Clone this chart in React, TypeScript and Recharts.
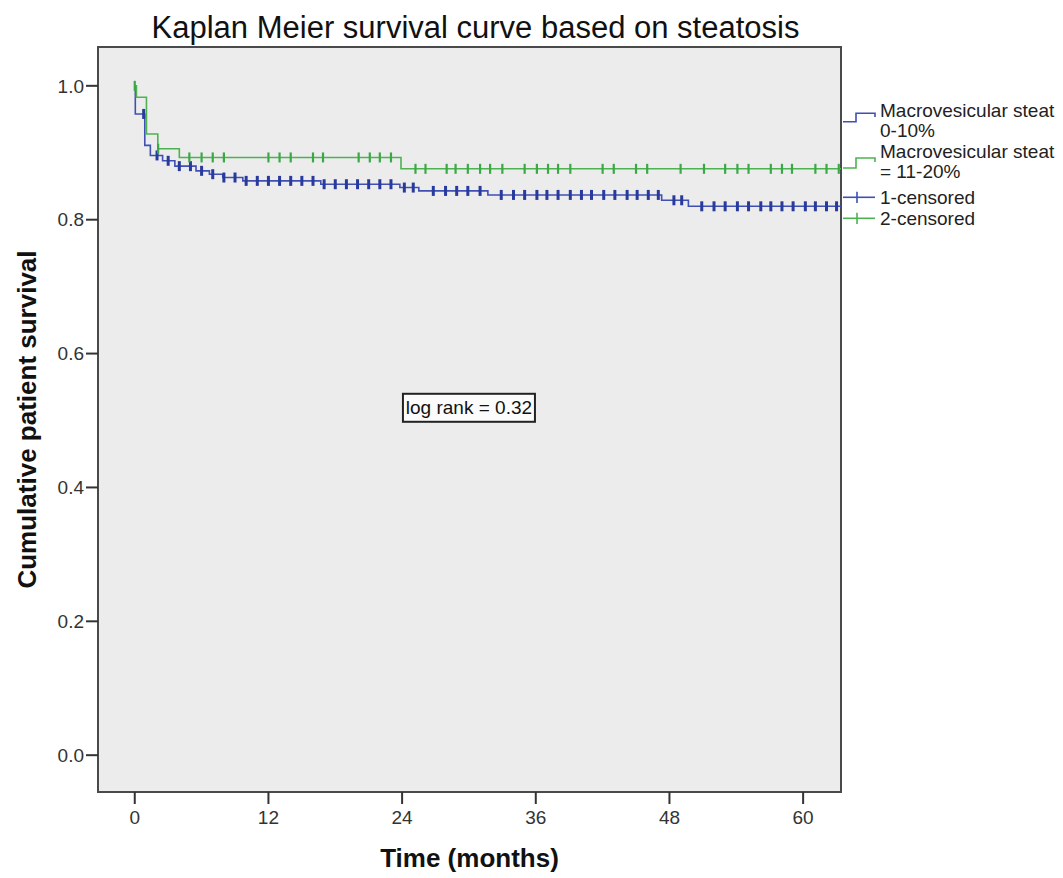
import React from 'react';
import {
  ComposedChart,
  Line,
  Scatter,
  XAxis,
  YAxis,
  CartesianGrid,
  ReferenceArea,
  ReferenceDot,
  Legend,
} from 'recharts';

// axis ticks
const monthTicks = [0, 12, 24, 36, 48, 60];
const survivalTicks = [0, 0.2, 0.4, 0.6, 0.8, 1.0];

// macrovesicular steatosis 0-10%: step times (months) and survival from that time on
const lowTimes = [0, 0.05, 0.9, 1.4, 2.5, 3.6, 5.5, 6.7, 7.9, 9.7, 16.7, 23.8, 25.5, 31.7, 47.3, 49.7, 63.4];
const lowSurvival = [1.0, 0.958, 0.911, 0.896, 0.888, 0.88, 0.873, 0.868, 0.863, 0.858, 0.853, 0.848, 0.843, 0.837, 0.829, 0.82, 0.82];
const lowCensored = [
  0.8, 2, 3, 4, 5, 6, 7, 8, 9, 10, 11, 12, 13, 14, 15, 16, 17, 18, 19, 20, 21, 22, 23, 24.2, 25, 26.8,
  27.9, 28.9, 29.9, 31, 32.9, 34, 35, 36.1, 37, 38, 39.1, 40.1, 41, 42.1, 43.1, 44.2, 45.1, 46.1, 47,
  48.4, 49.1, 50.9, 52, 53, 54.1, 55.1, 56.2, 57.1, 58.1, 59.1, 60.2, 61.1, 62.1, 63,
];

// macrovesicular steatosis 11-20%
const highTimes = [0, 0.15, 1.05, 2.07, 4.0, 23.9, 63.4];
const highSurvival = [1.0, 0.983, 0.928, 0.906, 0.893, 0.876, 0.876];
const highCensored = [
  0, 2.1, 4.9, 6, 7, 8, 12, 13, 14, 16, 16.9, 20.1, 21.1, 22, 23, 25.2, 26.1, 28, 28.8, 29.9, 31,
  31.9, 33, 35, 36.1, 37.1, 38, 39.1, 42, 43, 45, 46, 49, 51.1, 53, 54.1, 55.1, 57.1, 58.1, 59, 61.1,
  62.1, 63.2,
];

// legend labels (the source cuts the group name at the right edge)
const groupLabels = [['Macrovesicular steat', '0-10%'], ['Macrovesicular steat', '= 11-20%']];
const censorLabels = ['1-censored', '2-censored'];

const BLUE = '#3f4fb4';
const BLUE_MARK = '#283a9c';
const GREEN = '#4cb350';
const GREEN_MARK = '#3ba846';
const FONT = '"Liberation Sans", Arial, sans-serif';

const toSteps = (times: number[], surv: number[]) => times.map((t, i) => ({ t, s: surv[i] }));
const survivalAt = (times: number[], surv: number[], t: number) => {
  let s = surv[0];
  times.forEach((tt, i) => {
    if (tt <= t) s = surv[i];
  });
  return s;
};
const toCensor = (cens: number[], times: number[], surv: number[]) =>
  cens.map((t) => ({ t, s: survivalAt(times, surv, t) }));

const lowData = toSteps(lowTimes, lowSurvival);
const highData = toSteps(highTimes, highSurvival);
const lowMarks = toCensor(lowCensored, lowTimes, lowSurvival);
const highMarks = toCensor(highCensored, highTimes, highSurvival);

const censorShape = (color: string, width: number) => (props: any) => (
  <line x1={props.cx} y1={props.cy - 5} x2={props.cx} y2={props.cy + 5} stroke={color} strokeWidth={width} />
);

const legendText = { fontFamily: FONT, fontSize: 19, fill: '#222' };

const LegendBox = () => (
  <svg width={223} height={140}>
    <polyline points="3,26.7 16,26.7 16,18.3 35,18.3 35,22" fill="none" stroke={BLUE} strokeWidth={1.6} />
    <text x={40} y={15.7} dominantBaseline="central" {...legendText}>{groupLabels[0][0]}</text>
    <text x={40} y={35} dominantBaseline="central" {...legendText}>{groupLabels[0][1]}</text>
    <polyline points="3,73 16,73 16,63 35,63 35,67" fill="none" stroke={GREEN} strokeWidth={1.6} />
    <text x={40} y={56} dominantBaseline="central" {...legendText}>{groupLabels[1][0]}</text>
    <text x={40} y={76.7} dominantBaseline="central" {...legendText}>{groupLabels[1][1]}</text>
    <line x1={3} y1={102.3} x2={35} y2={102.3} stroke={BLUE} strokeWidth={1.6} />
    <line x1={17} y1={96.7} x2={17} y2={108} stroke={BLUE} strokeWidth={1.6} />
    <text x={40} y={102} dominantBaseline="central" {...legendText}>{censorLabels[0]}</text>
    <line x1={3} y1={123.3} x2={35} y2={123.3} stroke={GREEN} strokeWidth={1.6} />
    <line x1={17} y1={117.7} x2={17} y2={129} stroke={GREEN} strokeWidth={1.6} />
    <text x={40} y={123} dominantBaseline="central" {...legendText}>{censorLabels[1]}</text>
  </svg>
);

const LogRank = (props: any) => (
  <g>
    <rect x={props.cx - 66} y={props.cy - 14} width={132} height={28} fill="#fbfbfb" stroke="#222" strokeWidth={2} />
    <text x={props.cx} y={props.cy} dominantBaseline="central" textAnchor="middle" fontFamily={FONT} fontSize={19} fill="#111">
      log rank = 0.32
    </text>
  </g>
);

const tickStyle = { fill: '#333', fontSize: 19, fontFamily: FONT };

export default function App() {
  return (
    <div style={{ position: 'absolute', left: 0, top: 0, width: 1063, height: 878, overflow: 'hidden', background: '#fff' }}>
      <div
        style={{
          position: 'absolute',
          left: 0,
          top: 10,
          width: 951,
          textAlign: 'center',
          fontFamily: FONT,
          fontSize: 31,
          lineHeight: '36px',
          color: '#111',
          zIndex: 2,
        }}
      >
        Kaplan Meier survival curve based on steatosis
      </div>
      <ComposedChart width={1063} height={878} margin={{ top: 47, right: 222, bottom: 0, left: 0 }}>
        <CartesianGrid fill="#ececec" horizontal={false} vertical={false} />
        <XAxis
          dataKey="t"
          type="number"
          domain={[-3.3, 63.4]}
          ticks={monthTicks}
          allowDataOverflow
          height={86}
          axisLine={false}
          tickSize={12}
          tickMargin={7}
          tickLine={{ stroke: '#333', strokeWidth: 2 }}
          tick={tickStyle}
          label={{
            content: ({ viewBox }: any) => (
              <text
                x={viewBox.x + viewBox.width / 2}
                y={viewBox.y + 66}
                textAnchor="middle"
                dominantBaseline="central"
                fontFamily={FONT}
                fontSize={26}
                fontWeight="bold"
                fill="#111"
              >
                Time (months)
              </text>
            ),
          }}
        />
        <YAxis
          type="number"
          domain={[-0.055, 1.058]}
          ticks={survivalTicks}
          allowDataOverflow
          width={98}
          axisLine={false}
          tickSize={12}
          tickMargin={2}
          tickLine={{ stroke: '#333', strokeWidth: 2 }}
          tick={tickStyle}
          tickFormatter={(v: number) => v.toFixed(1)}
          label={{
            content: ({ viewBox }: any) => {
              const cx = viewBox.x + 27;
              const cy = viewBox.y + viewBox.height / 2;
              return (
                <text
                  x={cx}
                  y={cy}
                  transform={`rotate(-90 ${cx} ${cy})`}
                  textAnchor="middle"
                  dominantBaseline="central"
                  fontFamily={FONT}
                  fontSize={26}
                  fontWeight="bold"
                  fill="#111"
                >
                  Cumulative patient survival
                </text>
              );
            },
          }}
        />
        <ReferenceArea x1={-3.3} x2={63.4} y1={-0.055} y2={1.058} fill="none" fillOpacity={0} stroke="#4a4a4a" strokeWidth={2} />
        <Line data={lowData} dataKey="s" type="stepAfter" stroke={BLUE} strokeWidth={1.6} dot={false} isAnimationActive={false} />
        <Scatter data={lowMarks} dataKey="s" shape={censorShape(BLUE_MARK, 3)} isAnimationActive={false} />
        <Line data={highData} dataKey="s" type="stepAfter" stroke={GREEN} strokeWidth={1.6} dot={false} isAnimationActive={false} />
        <Scatter data={highMarks} dataKey="s" shape={censorShape(GREEN_MARK, 2.2)} isAnimationActive={false} />
        <ReferenceDot x={30} y={0.519} shape={LogRank} />
        <Legend
          layout="vertical"
          align="center"
          verticalAlign="middle"
          content={() => <LegendBox />}
          wrapperStyle={{ left: 840, top: 95, width: 223, height: 140 }}
        />
      </ComposedChart>
    </div>
  );
}
